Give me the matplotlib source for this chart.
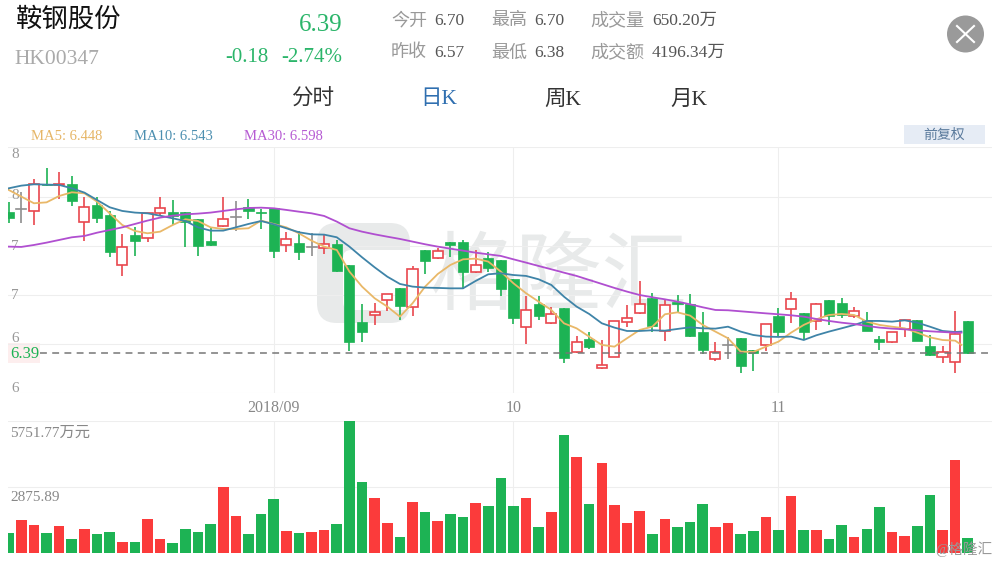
import numpy as np
import matplotlib
matplotlib.use("Agg")
import matplotlib.pyplot as plt
from matplotlib.patches import Circle, FancyBboxPatch, Rectangle

plt.rcParams['font.family'] = ['Liberation Serif', 'Noto Sans CJK SC']

GREEN = "#1db354"
RED = "#fb3b3b"
GRAY = "#999999"

# 日K: open / high / low / close
opens = [7.77, 7.80, 7.78, 8.04, 8.03, 8.04, 7.67, 7.84, 7.74, 7.25, 7.54, 7.52, 7.76, 7.77, 7.77, 7.70,
         7.49, 7.63, 7.72, 7.82, 7.77, 7.81, 7.45, 7.47, 7.43, 7.42, 7.46, 7.25, 6.70, 6.76, 6.91, 7.03,
         6.84, 7.40, 7.32, 7.48, 7.48, 7.18, 7.32, 7.30, 7.12, 6.65, 6.87, 6.69, 6.83, 6.40, 6.53, 6.25,
         6.35, 6.70, 6.78, 6.93, 6.61, 6.89, 6.87, 6.60, 6.33, 6.47, 6.54, 6.42, 6.47, 6.75, 6.82, 6.78,
         6.71, 6.91, 6.88, 6.75, 6.72, 6.53, 6.50, 6.63, 6.72, 6.46, 6.35, 6.31, 6.71]
highs = [7.87, 7.96, 8.09, 8.20, 8.16, 8.12, 7.92, 7.92, 7.78, 7.55, 7.62, 7.76, 7.92, 7.89, 7.77, 7.70,
         7.61, 7.92, 7.88, 7.90, 7.80, 7.81, 7.57, 7.58, 7.56, 7.55, 7.50, 7.25, 6.87, 6.88, 6.97, 7.03,
         7.24, 7.40, 7.42, 7.48, 7.50, 7.40, 7.38, 7.30, 7.12, 6.95, 6.95, 6.84, 6.83, 6.56, 6.60, 6.52,
         6.71, 6.86, 7.10, 6.98, 6.91, 6.96, 6.97, 6.79, 6.50, 6.55, 6.54, 6.42, 6.68, 6.83, 6.99, 6.78,
         6.88, 6.91, 6.93, 6.84, 6.79, 6.56, 6.60, 6.72, 6.72, 6.57, 6.46, 6.80, 6.71]
lows = [7.66, 7.66, 7.64, 8.02, 7.90, 7.83, 7.49, 7.66, 7.33, 7.14, 7.34, 7.48, 7.73, 7.64, 7.43, 7.34,
        7.44, 7.62, 7.58, 7.70, 7.60, 7.32, 7.38, 7.30, 7.34, 7.36, 7.18, 6.41, 6.50, 6.67, 6.80, 6.72,
        6.75, 7.16, 7.31, 7.33, 7.02, 7.17, 7.18, 6.95, 6.68, 6.48, 6.72, 6.68, 6.30, 6.39, 6.43, 6.24,
        6.35, 6.65, 6.77, 6.60, 6.51, 6.79, 6.55, 6.38, 6.32, 6.33, 6.20, 6.22, 6.41, 6.56, 6.69, 6.52,
        6.62, 6.67, 6.73, 6.73, 6.61, 6.42, 6.49, 6.55, 6.51, 6.36, 6.30, 6.20, 6.38]
closes = [7.71, 7.80, 8.04, 8.03, 8.04, 7.88, 7.82, 7.71, 7.38, 7.43, 7.49, 7.76, 7.81, 7.73, 7.67, 7.44,
          7.45, 7.70, 7.72, 7.78, 7.76, 7.39, 7.51, 7.38, 7.43, 7.46, 7.19, 6.50, 6.60, 6.79, 6.97, 6.85,
          7.21, 7.29, 7.39, 7.45, 7.18, 7.25, 7.22, 7.02, 6.73, 6.81, 6.75, 6.77, 6.34, 6.50, 6.45, 6.28,
          6.71, 6.73, 6.87, 6.66, 6.86, 6.87, 6.56, 6.42, 6.40, 6.47, 6.27, 6.39, 6.68, 6.60, 6.92, 6.60,
          6.87, 6.75, 6.76, 6.80, 6.61, 6.50, 6.60, 6.72, 6.51, 6.37, 6.40, 6.58, 6.39]

# 成交额 (万元), 1 = red bar
volume = [884, 1434, 1203, 855, 1188, 623, 1029, 811, 927, 464, 464, 1463, 594, 435, 1029, 913,
          1246, 2869, 1608, 826, 1695, 2333, 971, 869, 927, 1014, 1260, 5751.77, 3086, 2391, 1318, 710,
          2202, 1782, 1376, 1695, 1550, 2188, 2029, 3260, 2043, 2405, 1145, 1782, 5144, 4173, 2115, 3912,
          2072, 1290, 1826, 840, 1463, 1116, 1362, 2144, 1130, 1318, 826, 956, 1550, 985, 2478, 1014,
          1000, 594, 1203, 710, 1043, 2014, 927, 739, 1159, 2536, 1000, 4028, 652]
volume_red = [0, 1, 1, 0, 1, 0, 1, 0, 0, 1, 0, 1, 1, 0, 0, 0,
              0, 1, 1, 0, 0, 0, 1, 0, 1, 1, 0, 0, 0, 1, 1, 0,
              1, 0, 1, 0, 0, 1, 0, 0, 0, 1, 0, 1, 0, 1, 0, 1,
              1, 1, 1, 0, 1, 0, 0, 0, 1, 1, 0, 0, 1, 0, 1, 0,
              1, 0, 0, 1, 0, 0, 1, 1, 0, 0, 1, 1, 0]

# 均线, 最后一点停在最后一根K线之前
ma_days = list(range(76)) + [75.5]
ma5 = [7.984, 7.919, 7.854, 7.863, 7.925, 7.961, 7.951, 7.870, 7.756, 7.642, 7.584, 7.561, 7.577, 7.642, 7.698, 7.681,
       7.619, 7.603, 7.603, 7.610, 7.685, 7.652, 7.619, 7.561, 7.489, 7.431, 7.398, 7.187, 7.041, 6.927, 6.846, 6.748,
       6.878, 7.041, 7.164, 7.252, 7.307, 7.314, 7.285, 7.187, 7.073, 6.976, 6.894, 6.813, 6.683, 6.634, 6.553, 6.472,
       6.455, 6.537, 6.618, 6.650, 6.771, 6.790, 6.758, 6.667, 6.602, 6.537, 6.407, 6.403, 6.455, 6.504, 6.592, 6.667,
       6.722, 6.764, 6.774, 6.764, 6.699, 6.667, 6.650, 6.634, 6.592, 6.546, 6.520, 6.514, 6.472]
ma10 = [8.000, 8.026, 8.039, 8.036, 8.033, 8.000, 7.958, 7.886, 7.815, 7.779, 7.763, 7.756, 7.733, 7.707, 7.681, 7.619,
        7.587, 7.587, 7.619, 7.652, 7.681, 7.649, 7.610, 7.571, 7.551, 7.548, 7.522, 7.431, 7.327, 7.229, 7.138, 7.067,
        7.041, 7.031, 7.028, 7.024, 7.024, 7.096, 7.161, 7.171, 7.154, 7.145, 7.112, 7.057, 6.943, 6.846, 6.774, 6.683,
        6.641, 6.608, 6.608, 6.615, 6.611, 6.628, 6.644, 6.634, 6.631, 6.650, 6.602, 6.569, 6.553, 6.550, 6.553, 6.520,
        6.566, 6.602, 6.634, 6.667, 6.706, 6.706, 6.699, 6.712, 6.689, 6.650, 6.608, 6.598, 6.602]
ma30 = [7.431, 7.428, 7.447, 7.470, 7.496, 7.522, 7.535, 7.567, 7.593, 7.619, 7.652, 7.685, 7.714, 7.733, 7.746, 7.753,
        7.763, 7.779, 7.795, 7.808, 7.811, 7.805, 7.789, 7.772, 7.756, 7.730, 7.675, 7.610, 7.577, 7.551, 7.528, 7.506,
        7.480, 7.454, 7.431, 7.411, 7.392, 7.372, 7.356, 7.340, 7.307, 7.275, 7.242, 7.210, 7.177, 7.145, 7.106, 7.067,
        7.028, 6.992, 6.959, 6.937, 6.917, 6.894, 6.868, 6.839, 6.813, 6.810, 6.800, 6.790, 6.780, 6.771, 6.761, 6.748,
        6.725, 6.706, 6.689, 6.676, 6.657, 6.641, 6.631, 6.624, 6.615, 6.605, 6.598, 6.592, 6.592]

price_ticks = [6.0, 6.48, 6.96, 7.44, 7.92, 8.4]
price_labels = ["6", "6", "7", "7", "8", "8"]
month_days = [21, 40, 61]
month_labels = ["2018/09", "10", "11"]
last_price = 6.39
vol_max = 5751.77

W, H = 1000, 563
fig = plt.figure(figsize=(W / 100, H / 100), dpi=100, facecolor="white")


def px_axes(left, top, right, bottom):
    return fig.add_axes([left / W, 1 - bottom / H, (right - left) / W, (bottom - top) / H])


# 整张图的像素坐标层, 放标题和按钮
bg = fig.add_axes([0, 0, 1, 1], zorder=0)
bg.set_xlim(0, W)
bg.set_ylim(H, 0)
bg.axis("off")

# 水印
bg.add_patch(FancyBboxPatch((317, 223), 93, 100, boxstyle="round,pad=0,rounding_size=20",
                            fc="#e8eaea", ec="none"))
bg.add_patch(FancyBboxPatch((343, 250), 90, 60, boxstyle="round,pad=0,rounding_size=8",
                            fc="white", ec="none"))
bg.text(559, 279, "格隆汇", fontsize=62, color="#e8eaea", ha="center", va="center",
        family="Noto Sans CJK SC")
bg.add_patch(Rectangle((8, 343), 32, 20, fc="#fdeeee", ec="none"))

xlim = (-0.055, 77.92)

ax = px_axes(8, 147.3, 992, 393.3)
ax.patch.set_alpha(0)
ax.set_xlim(*xlim)
ax.set_ylim(6.0, 8.4)
for s in ax.spines.values():
    s.set_visible(False)
ax.set_xticks(month_days)
ax.set_xticklabels([])
ax.set_yticks(price_ticks)
ax.set_yticklabels([])
ax.tick_params(length=0)
ax.grid(True, color="#eeeeee", lw=0.8)
ax.set_axisbelow(True)

for i in range(len(opens)):
    o, h, l, c = opens[i], highs[i], lows[i], closes[i]
    if c > o:
        col = "#e9474e"
    elif c < o:
        col = GREEN
    else:
        col = "#8d8d8d"
    ax.plot([i, i], [l, h], color=col, lw=1.2, zorder=2, solid_capstyle="butt")
    if c > o:
        ax.add_patch(Rectangle((i - 0.4, o), 0.8, c - o, fc="white", ec=col, lw=1.2, zorder=3))
    elif c < o:
        ax.add_patch(Rectangle((i - 0.4, c), 0.8, o - c, fc=col, ec=col, lw=0.5, zorder=3))
    else:
        ax.plot([i - 0.4, i + 0.4], [o, o], color=col, lw=1.2, zorder=3)

ax.plot(ma_days, ma5, color="#e9b868", lw=1.3, zorder=4)
ax.plot(ma_days, ma10, color="#3f84a8", lw=1.3, zorder=4)
ax.plot(ma_days, ma30, color="#b04fd0", lw=1.3, zorder=4)
ax.axhline(last_price, xmin=32 / 984, color="#777777", lw=1.1, ls=(0, (4.5, 3.5)), zorder=5)

label_y = [6.05, 6.535, 6.955, 7.435, 7.925, 8.33]
for v, lab in zip(label_y, price_labels):
    ax.text(0.2, v, lab, fontsize=11, color=GRAY, ha="left", va="center", clip_on=False)

ax.text(0.15, last_price - 0.01, "6.39", fontsize=12, color=GREEN, ha="left", va="center", zorder=6)

for d, lab in zip(month_days, month_labels):
    ax.text(d, 6.0 - 0.145, lab, fontsize=11.5, color="#888888", ha="center", va="center", clip_on=False)

vol = px_axes(8, 420.5, 992, 553)
vol.patch.set_alpha(0)
vol.set_xlim(*xlim)
vol.set_ylim(0, vol_max)
for s in vol.spines.values():
    s.set_visible(False)
vol.set_xticks(month_days)
vol.set_xticklabels([])
vol.set_yticks([vol_max / 2, vol_max])
vol.set_yticklabels([])
vol.tick_params(length=0)
vol.grid(True, color="#eeeeee", lw=0.8)
vol.set_axisbelow(True)
vol.bar(range(len(volume)), volume, width=0.84,
        color=[RED if r else GREEN for r in volume_red], zorder=3)
vol.text(0.12, vol_max * 0.955, "5751.77万元", fontsize=11, color="#888888", ha="left", va="top", zorder=4)
vol.text(0.12, vol_max * 0.47, "2875.89", fontsize=11, color="#888888", ha="left", va="top", zorder=4)

# 标题区
bg.text(16, 19, "鞍钢股份", fontsize=19, color="#111111", ha="left", va="center")
bg.text(14, 59, "HK00347", fontsize=15.5, color="#aaaaaa", ha="left", va="center")
bg.text(342, 25, "6.39", fontsize=18, color="#2bb56a", ha="right", va="center")
bg.text(269, 58, "-0.18", fontsize=15, color="#2bb56a", ha="right", va="center")
bg.text(342, 58, "-2.74%", fontsize=15, color="#2bb56a", ha="right", va="center")

stat_labels = ["今开", "最高", "成交量", "昨收", "最低", "成交额"]
stat_values = ["6.70", "6.70", "650.20万", "6.57", "6.38", "4196.34万"]
stat_x = [391, 491, 590, 391, 491, 590]
value_x = [434, 534, 652, 434, 534, 652]
stat_y = [21, 21, 21, 53, 53, 53]
for t, v, x, vx, y in zip(stat_labels, stat_values, stat_x, value_x, stat_y):
    bg.text(x, y, t, fontsize=13, color="#999999", ha="left", va="center")
    bg.text(vx, y, v, fontsize=12.5, color="#555555", ha="left", va="center")

tab_labels = ["分时", "日K", "周K", "月K"]
tab_x = [313, 439, 563, 689]
tab_col = ["#333333", "#2f6fb0", "#333333", "#333333"]
for t, x, col in zip(tab_labels, tab_x, tab_col):
    bg.text(x, 100, t, fontsize=15.5, color=col, ha="center", va="center")

bg.text(31, 137, "MA5: 6.448", fontsize=10.5, color="#e6b667", ha="left", va="center")
bg.text(134, 137, "MA10: 6.543", fontsize=10.5, color="#4c8fb0", ha="left", va="center")
bg.text(244, 137, "MA30: 6.598", fontsize=10.5, color="#b65bd3", ha="left", va="center")

bg.add_patch(Rectangle((904, 125), 81, 19, fc="#e6ecf5", ec="none"))
bg.text(944.5, 135, "前复权", fontsize=10, color="#5a7a9c", ha="center", va="center")

bg.add_patch(Circle((965.5, 34), 18.5, fc="#9a9a9a", ec="none"))
bg.plot([957, 974], [26, 42], color="white", lw=1.5)
bg.plot([957, 974], [42, 26], color="white", lw=1.5)

fg = fig.add_axes([0, 0, 1, 1], zorder=5)
fg.set_xlim(0, W)
fg.set_ylim(H, 0)
fg.axis("off")
fg.text(992, 549, "@格隆汇", fontsize=10.5, color="#999999", ha="right", va="center")

fig.savefig("out.png", dpi=100)
